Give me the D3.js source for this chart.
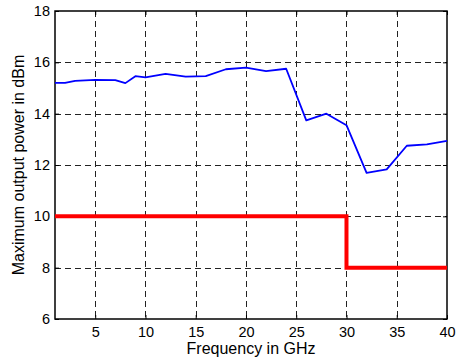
<!DOCTYPE html>
<html>
<head>
<meta charset="utf-8">
<script src="https://cdn.jsdelivr.net/npm/d3@7"></script>
<style>
  body { margin: 0; background: #fff; }
  text { font-family: "Liberation Sans", Arial, sans-serif; fill: #000; }
  .grid line { stroke: #222; stroke-width: 1; stroke-dasharray: 6,4; shape-rendering: crispEdges; }
</style>
</head>
<body>
<div id="chart"></div>
<script>
// measured max output power (blue)
var freqGHz = [1, 2, 3, 5, 7, 8, 9, 10, 12, 14, 16, 18, 20, 22, 24, 26, 28, 30, 32, 34, 36, 38, 40];
var powerDbm = [15.2, 15.2, 15.28, 15.32, 15.31, 15.19, 15.46, 15.41, 15.55, 15.44, 15.46, 15.73, 15.79, 15.66, 15.75, 13.74, 14.0, 13.55, 11.69, 11.83, 12.75, 12.8, 12.94];

// spec limit (red step)
var limitFreq = [1, 30, 30, 40];
var limitDbm = [10, 10, 8, 8];

var xTicks = [5, 10, 15, 20, 25, 30, 35, 40];
var yTicks = [6, 8, 10, 12, 14, 16, 18];

var totalW = 456, totalH = 363;
var margin = { left: 55, right: 9, top: 11, bottom: 44 };
var width = totalW - margin.left - margin.right;
var height = totalH - margin.top - margin.bottom;

var svg = d3.select('#chart').append('svg')
    .attr('width', totalW)
    .attr('height', totalH);

var g = svg.append('g')
    .attr('transform', 'translate(' + margin.left + ',' + margin.top + ')');

var x = d3.scaleLinear().domain([1, 40]).range([0, width]);
var y = d3.scaleLinear().domain([6, 18]).range([height, 0]);

// gridlines
g.append('g')
    .attr('class', 'grid')
    .selectAll('line')
    .data(xTicks.filter(function (d) { return d < 40; }))
    .enter().append('line')
    .attr('x1', function (d) { return Math.round(x(d)) + 0.5; })
    .attr('x2', function (d) { return Math.round(x(d)) + 0.5; })
    .attr('y1', 0)
    .attr('y2', height);

g.append('g')
    .attr('class', 'grid')
    .selectAll('line')
    .data(yTicks.filter(function (d) { return d > 6 && d < 18; }))
    .enter().append('line')
    .attr('x1', 0)
    .attr('x2', width)
    .attr('y1', function (d) { return Math.round(y(d)) + 0.5; })
    .attr('y2', function (d) { return Math.round(y(d)) + 0.5; });

// axes, ticks pointing inward like matlab
var xAxis = d3.axisBottom(x).tickValues(xTicks).tickSize(-4).tickPadding(8);
var yAxis = d3.axisLeft(y).tickValues(yTicks).tickSize(-4).tickPadding(5);

var gx = g.append('g').attr('transform', 'translate(0,' + height + ')').call(xAxis);
var gy = g.append('g').call(yAxis);
var gxTop = g.append('g').call(d3.axisTop(x).tickValues(xTicks).tickSize(-4).tickFormat(''));
var gyRight = g.append('g').attr('transform', 'translate(' + width + ',0)')
    .call(d3.axisRight(y).tickValues(yTicks).tickSize(-4).tickFormat(''));

[gx, gy, gxTop, gyRight].forEach(function (a) {
    a.select('.domain').remove();
    a.selectAll('line').attr('stroke', '#000');
    a.selectAll('text').style('font-size', '14.5px').attr('fill', '#000');
});

// box
g.append('rect')
    .attr('width', width)
    .attr('height', height)
    .attr('fill', 'none')
    .attr('stroke', '#000')
    .attr('stroke-width', 1.5);

var line = d3.line()
    .x(function (d) { return x(d[0]); })
    .y(function (d) { return y(d[1]); });

g.append('path')
    .attr('d', line(d3.zip(limitFreq, limitDbm)))
    .attr('fill', 'none')
    .attr('stroke', '#ff0000')
    .attr('stroke-width', 4);

g.append('path')
    .attr('d', line(d3.zip(freqGHz, powerDbm)))
    .attr('fill', 'none')
    .attr('stroke', '#0000ff')
    .attr('stroke-width', 1.8)
    .attr('stroke-linejoin', 'round');

// labels
svg.append('text')
    .attr('x', margin.left + width / 2)
    .attr('y', 354)
    .style('text-anchor', 'middle')
    .style('font-size', '16px')
    .text('Frequency in GHz');

svg.append('text')
    .attr('transform', 'translate(24,' + (margin.top + height / 2) + ') rotate(-90)')
    .style('text-anchor', 'middle')
    .style('font-size', '16px')
    .text('Maximum output power in dBm');
</script>
</body>
</html>
